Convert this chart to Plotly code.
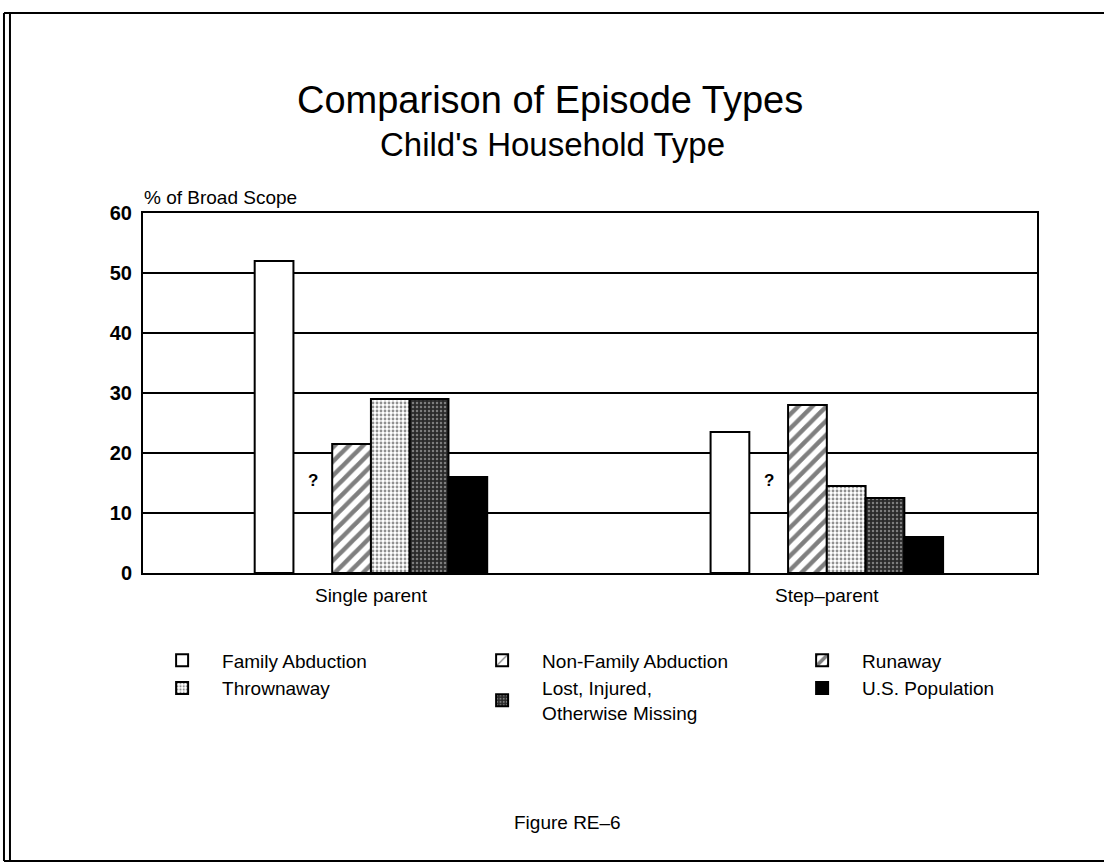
import plotly.graph_objects as go

# data (percent of broad scope)
households = ["Single parent", "Step\u2013parent"]
household_pos = [0, 1]
family_abduction = [52, 23.5]
non_family_abduction = [None, None]  # shown as "?" in the original
runaway = [21.5, 28]
thrownaway = [29, 14.5]
lost_injured = [29, 12.5]
us_population = [16, 6]

y_ticks = [0, 10, 20, 30, 40, 50, 60]

FONT = "Liberation Sans, Arial, sans-serif"
OUTLINE = dict(color="black", width=2)

series = [
    ("Family Abduction", family_abduction,
     dict(color="white", line=OUTLINE)),
    ("Non-Family Abduction", non_family_abduction,
     dict(color="white", line=OUTLINE,
          pattern=dict(shape="/", fgcolor="black", bgcolor="white", size=14, solidity=0.15))),
    ("Runaway", runaway,
     dict(color="white", line=OUTLINE,
          pattern=dict(shape="/", fgcolor="black", bgcolor="white", size=10, solidity=0.45))),
    ("Thrownaway", thrownaway,
     dict(color="white", line=OUTLINE,
          pattern=dict(shape=".", fgcolor="#222", bgcolor="white", size=4, solidity=0.4))),
    ("Lost, Injured,<br>Otherwise Missing", lost_injured,
     dict(color="#333", line=OUTLINE,
          pattern=dict(shape=".", fgcolor="#cfcfcf", bgcolor="#2a2a2a", size=4, solidity=0.3))),
    ("U.S. Population", us_population,
     dict(color="black", line=OUTLINE)),
]

fig = go.Figure()
for name, vals, marker in series:
    fig.add_trace(go.Bar(x=household_pos, y=vals, name=name, marker=marker))

BARGAP = 0.49
slot = (1 - BARGAP) / len(series)
q_offset = -(1 - BARGAP) / 2 + 1.5 * slot

for pos in household_pos:
    fig.add_annotation(x=pos + q_offset, y=15.5, xref="x", yref="y", text="<b>?</b>",
                       showarrow=False, font=dict(size=17, color="black", family=FONT))


def label(text, x, y, size, xanchor="center"):
    fig.add_annotation(x=x, y=y, xref="paper", yref="paper", text=text,
                       xanchor=xanchor, yanchor="middle", showarrow=False,
                       font=dict(size=size, color="black", family=FONT))


label("Comparison of Episode Types", 0.455, 1.314, 38)
label("Child's Household Type", 0.458, 1.189, 33)
label("% of Broad Scope", -0.001, 1.044, 19, xanchor="left")
label("Figure RE\u20136", 0.475, -0.692, 19)

# page frame: top, bottom and a double line on the left
frame = dict(color="black", width=2)
fig.add_shape(type="line", xref="paper", yref="paper", x0=-0.1555, x1=1.1, y0=1.5556, y1=1.5556, line=frame)
fig.add_shape(type="line", xref="paper", yref="paper", x0=-0.1555, x1=1.1, y0=-0.8, y1=-0.8, line=frame)
fig.add_shape(type="line", xref="paper", yref="paper", x0=-0.1488, x1=-0.1488, y0=-0.8, y1=1.5556, line=frame)
fig.add_shape(type="line", xref="paper", yref="paper", x0=-0.1555, x1=-0.1555, y0=-0.8, y1=1.5556, line=frame)

fig.update_layout(
    barmode="group",
    bargap=BARGAP,
    bargroupgap=0,
    width=1104,
    height=863,
    margin=dict(l=143, r=67, t=213, b=290),
    paper_bgcolor="white",
    plot_bgcolor="white",
    font=dict(family=FONT, color="black", size=15),
    showlegend=True,
    legend=dict(
        orientation="h",
        x=-0.001,
        xanchor="left",
        y=-0.19,
        yanchor="top",
        entrywidth=235,
        itemwidth=70,
        traceorder="normal",
        font=dict(size=19, color="black", family=FONT),
    ),
    xaxis=dict(
        range=[-0.5, 1.461],
        tickvals=household_pos, ticktext=households,
        showline=True, linecolor="black", linewidth=2, mirror=True,
        showgrid=False, zeroline=False,
        ticks="outside", ticklen=4, tickcolor="rgba(0,0,0,0)",
        tickfont=dict(size=19, color="black"),
    ),
    yaxis=dict(
        range=[0, 60], tickvals=y_ticks,
        showline=True, linecolor="black", linewidth=2, mirror=True,
        showgrid=True, gridcolor="black", gridwidth=2,
        zeroline=False,
        ticks="outside", ticklen=5, tickcolor="rgba(0,0,0,0)",
        tickfont=dict(size=20, color="black", weight="bold"),
    ),
)

fig.write_html("out.html", config={"displayModeBar": False},
               post_script="document.body.style.margin='0';")
